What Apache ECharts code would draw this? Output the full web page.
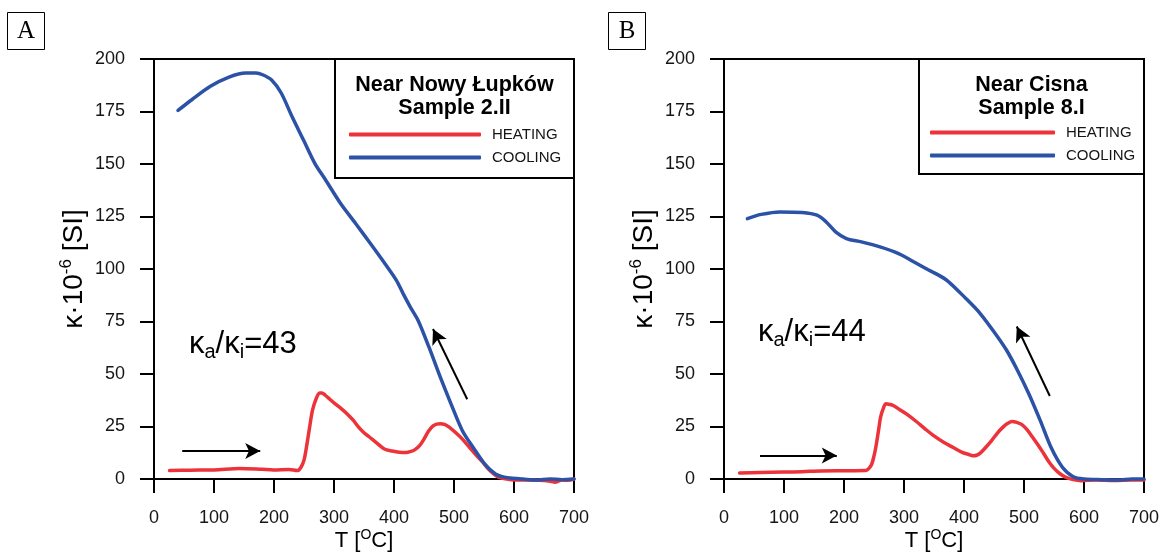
<!DOCTYPE html>
<html>
<head>
<meta charset="utf-8">
<script src="https://cdn.jsdelivr.net/npm/echarts@6/dist/echarts.min.js"></script>
<style>
html,body{margin:0;padding:0;background:#fff;}
#c{width:1163px;height:554px;}
</style>
</head>
<body>
<div id="c"></div>
<script>
// ---- Data ----
var xTicks = [0, 100, 200, 300, 400, 500, 600, 700];
var yTicks = [0, 25, 50, 75, 100, 125, 150, 175, 200];

// Panel A : Near Nowy Łupków, Sample 2.II
var aHeatT = [26,60,100,143,180,199,225,239,245,250,254,259,264,270,276,280,285,293,301,312,322,332,341,350,359,372,384,397,409,420,427,435,443,450,458,466,477,484,492,503,514,526,538,548,557,566,575,587,600,620,640,655,668,680,690,700];
var aHeatK = [4,4.2,4.3,5,4.6,4.3,4.5,4,5.6,9,15,24,32.6,38,41,41,40,38,36,33.5,31,28,24.7,22,20,17,14.3,13.3,12.7,12.6,13,14,16,19,23,25.5,26.3,26,24.7,22,19,15,11,8,4.8,2.5,0.8,0,-0.5,-0.5,-0.6,-0.8,-1.5,-0.5,-0.6,0];
var aCoolT = [40,63,94,125,153,170,181,196,212,230,249,268,286,311,336,361,385,404,415,427,440,458,477,495,514,532,551,569,582,594,615,637,660,680,700];
var aCoolK = [175.5,180.6,187,191.4,193.3,193.3,192.5,190,183.8,172.6,161.5,150.3,142.4,131.2,121.7,112,102.5,94.6,88.4,82,75.6,63,48.6,35.8,23,15,7.2,2.4,1,0.5,0,-0.5,0,-0.3,0];

// Panel B : Near Cisna, Sample 8.I
var bHeatT = [26,60,99,130,161,200,235,245,250,254,258,261,266,270,276,282,293,304,320,335,350,366,382,397,407,415,421,427,436,446,456,465,473,480,488,496,505,514,524,533,542,551,560,570,582,595,620,650,680,700];
var bHeatK = [2.9,3.1,3.3,3.5,3.8,3.9,4,6.4,11,16.7,24,29.5,34,35.8,35.5,35,33,31,27.5,23.9,20.5,17.5,15,12.7,11.8,11.1,11.3,12.3,15,18.3,22,24.7,26.5,27.4,27,26,23.5,20,16,12,8,4.8,2.5,0.8,-0.3,-0.8,-0.5,-0.7,-0.5,-0.5];
var bCoolT = [39,62,93,130,155,170,186,204,229,260,291,322,341,353,372,403,427,452,471,489,508,527,545,564,582,601,630,657,680,700];
var bCoolK = [124,126,127.2,126.9,125.6,122.5,117.7,114.5,112.9,110.5,107.3,102.5,99.5,97.8,94.5,86,78.8,69.3,61.3,51.8,40.6,27.9,15.1,5.6,1.1,0,-0.3,-0.5,0,0];

// arrows (data coordinates: [T, kappa] tail -> head)
var aHeatArrow = [[47, 13.3], [177, 13.3]];
var aCoolArrow = [[522, 38], [465, 71.4]];
var bHeatArrow = [[60, 11.2], [188, 11.2]];
var bCoolArrow = [[543, 39.5], [488, 72.6]];

var ratioA = '43';
var ratioB = '44';
var titleA = ['Near Nowy Łupków', 'Sample 2.II'];
var titleB = ['Near Cisna', 'Sample 8.I'];
var seriesNames = ['HEATING', 'COOLING'];

// ---- styling ----
var FONT = '"Liberation Sans", Arial, Helvetica, sans-serif';
var RED = '#ec3339';
var BLUE = '#2b52a6';
var INK = '#151515';

function zip(xs, ys) { return xs.map(function (x, i) { return [x, ys[i]]; }); }

function xAxisOf(gi) {
  return {
    gridIndex: gi, type: 'value', min: 0, max: 700, interval: 100,
    axisLine: { show: true, onZero: false, lineStyle: { color: '#000', width: 2 } },
    axisTick: { show: true, inside: false, length: 14, lineStyle: { color: '#000', width: 2 } },
    axisLabel: { margin: 30, fontSize: 18, color: INK, fontFamily: FONT,
      formatter: function (v) { return xTicks.indexOf(v) >= 0 ? String(v) : ''; } },
    splitLine: { show: false }
  };
}
function yAxisOf(gi) {
  return {
    gridIndex: gi, type: 'value', min: 0, max: 200, interval: 25,
    axisLine: { show: true, onZero: false, lineStyle: { color: '#000', width: 2 } },
    axisTick: { show: true, inside: false, length: 14, lineStyle: { color: '#000', width: 2 } },
    axisLabel: { margin: 29, fontSize: 18, color: INK, fontFamily: FONT,
      formatter: function (v) { return yTicks.indexOf(v) >= 0 ? String(v) : ''; } },
    splitLine: { show: false }
  };
}

function arrowMark(arrs) {
  return {
    silent: true, animation: false,
    symbol: ['none', 'arrow'], symbolSize: [12, 15],
    label: { show: false },
    lineStyle: { color: '#000', width: 2, type: 'solid' },
    emphasis: { disabled: true },
    data: arrs.map(function (a) { return [{ coord: a[0] }, { coord: a[1] }]; })
  };
}

function lineSeries(name, gi, data, color, arrows) {
  var s = {
    name: name, type: 'line', xAxisIndex: gi, yAxisIndex: gi,
    data: data, showSymbol: false, symbol: 'none', smooth: 0.3,
    lineStyle: { color: color, width: 3.5, cap: 'round', join: 'round' },
    itemStyle: { color: color },
    animation: false, clip: false
  };
  if (arrows) s.markLine = arrowMark(arrows);
  return s;
}

var richKappa = {
  k: { fontSize: 31, lineHeight: 36, fontFamily: FONT, color: INK },
  s: { fontSize: 20, lineHeight: 12, fontFamily: FONT, color: INK, verticalAlign: 'bottom' }
};
var richY = {
  m: { fontSize: 28, lineHeight: 32, fontFamily: FONT, color: INK },
  s: { fontSize: 17, lineHeight: 12, fontFamily: FONT, color: INK, verticalAlign: 'top' }
};
var richX = {
  m: { fontSize: 22, lineHeight: 26, fontFamily: FONT, color: INK },
  s: { fontSize: 14, lineHeight: 10, fontFamily: FONT, color: INK, verticalAlign: 'top' }
};

function panelGraphics(letter, boxX, axisLeft, axisRight, legBox, titles, ratio, ratioPos) {
  var cx = (axisLeft + axisRight) / 2;
  return [
    { type: 'rect', shape: { x: boxX + 0.5, y: 12.5, width: 37, height: 37 },
      style: { fill: '#fff', stroke: '#000', lineWidth: 1 } },
    { type: 'text', x: boxX + 19, y: 31.5,
      style: { text: letter, fontSize: 25, fontFamily: '"Liberation Serif", "DejaVu Serif", serif', fill: '#000', align: 'center', verticalAlign: 'middle' } },
    { type: 'rect', shape: { x: legBox[0], y: legBox[1], width: legBox[2], height: legBox[3] },
      style: { fill: 'none', stroke: '#000', lineWidth: 2 }, z: 10 },
    { type: 'text', x: legBox[0] + legBox[2] / 2, y: 85,
      style: { text: titles[0], fontSize: 21.5, fontWeight: 'bold', fontFamily: FONT, fill: '#000', align: 'center', verticalAlign: 'middle' }, z: 10 },
    { type: 'text', x: legBox[0] + legBox[2] / 2, y: 108,
      style: { text: titles[1], fontSize: 21.5, fontWeight: 'bold', fontFamily: FONT, fill: '#000', align: 'center', verticalAlign: 'middle' }, z: 10 },
    { type: 'text', x: ratioPos[0], y: ratioPos[1],
      style: { text: '{k|κ}{s|a}{k|/κ}{s|i}{k|=' + ratio + '}', rich: richKappa, align: 'left', verticalAlign: 'middle' }, z: 10 },
    { type: 'text', x: axisLeft - 80, y: 269, rotation: Math.PI / 2,
      style: { text: '{m|κ·10}{s|-6}{m| [SI]}', rich: richY, align: 'center', verticalAlign: 'middle' }, z: 10 },
    { type: 'text', x: cx, y: 541,
      style: { text: '{m|T [}{s|O}{m|C]}', rich: richX, align: 'center', verticalAlign: 'middle' }, z: 10 }
  ];
}

var chart = echarts.init(document.getElementById('c'), null, { renderer: 'canvas' });
chart.setOption({
  backgroundColor: '#fff',
  animation: false,
  textStyle: { fontFamily: FONT },
  grid: [
    { left: 154, top: 59, width: 420, height: 420, show: true, borderColor: '#000', borderWidth: 2, backgroundColor: 'transparent', containLabel: false },
    { left: 724, top: 59, width: 420, height: 420, show: true, borderColor: '#000', borderWidth: 2, backgroundColor: 'transparent', containLabel: false }
  ],
  xAxis: [xAxisOf(0), xAxisOf(1)],
  yAxis: [yAxisOf(0), yAxisOf(1)],
  legend: [
    { data: seriesNames, orient: 'vertical', left: 349, top: 127, padding: 0, itemGap: 8,
      icon: 'roundRect', itemWidth: 132, itemHeight: 4, selectedMode: false,
      textStyle: { fontSize: 15, lineHeight: 14, color: INK, fontFamily: FONT, padding: [0, 0, 0, 6] } },
    { data: seriesNames, orient: 'vertical', left: 930, top: 125, padding: 0, itemGap: 8,
      icon: 'roundRect', itemWidth: 125, itemHeight: 4, selectedMode: false,
      textStyle: { fontSize: 15, lineHeight: 14, color: INK, fontFamily: FONT, padding: [0, 0, 0, 6] } }
  ],
  series: [
    lineSeries(seriesNames[0], 0, zip(aHeatT, aHeatK), RED, [aHeatArrow, aCoolArrow]),
    lineSeries(seriesNames[1], 0, zip(aCoolT, aCoolK), BLUE),
    lineSeries(seriesNames[0], 1, zip(bHeatT, bHeatK), RED, [bHeatArrow, bCoolArrow]),
    lineSeries(seriesNames[1], 1, zip(bCoolT, bCoolK), BLUE)
  ],
  graphic: panelGraphics('A', 7, 154, 574, [335, 59, 239, 119], titleA, ratioA, [189, 344])
    .concat(panelGraphics('B', 608, 724, 1144, [919, 59, 225, 115], titleB, ratioB, [758, 332]))
});
</script>
</body>
</html>
